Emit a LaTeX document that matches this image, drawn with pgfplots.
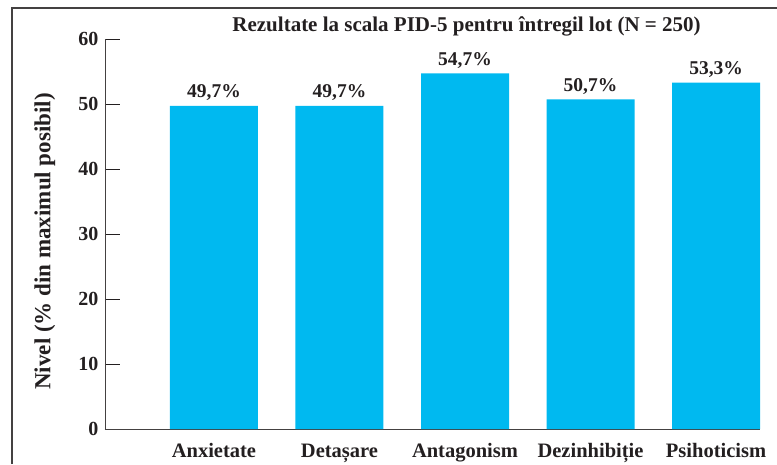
\documentclass[border=0pt]{standalone}
\usepackage{pgfplots}
\pgfplotsset{compat=1.18}
\usepackage{fontspec}
\setmainfont{Liberation Serif}
\definecolor{barc}{RGB}{0,185,240}
\definecolor{txt}{RGB}{35,31,32}
\begin{document}
\begin{tikzpicture}[x=1pt,y=1pt]
\draw[line width=1.2pt, color=txt!85] (12,0) -- (12,456) -- (777,456);
\begin{axis}[
  at={(105pt,35pt)}, anchor=south west, scale only axis,
  width=655pt, height=390pt,
  xmin=-0.868, xmax=4.35, ymin=0, ymax=60,
  axis lines*=left,
  axis line style={color=txt!85, line width=0.9pt},
  ybar, bar width=88pt,
  ytick={0,10,...,60},
  xtick={0,1,2,3,4},
  xticklabels={Anxietate,Detașare,Antagonism,Dezinhibiție,Psihoticism},
  tick align=inside,
  major tick length=15pt,
  ytick style={color=txt, line width=0.9pt},
  xtick style={draw=none},
  /pgf/number format/assume math mode=true,
  every tick label/.append style={text=txt},
  yticklabel style={anchor=east, inner sep=0pt, xshift=-6.5pt, font=\fontsize{20}{22}\selectfont\bfseries},
  xticklabel style={anchor=base, inner sep=0pt, yshift=-28pt, font=\fontsize{20.5}{22}\selectfont\bfseries},
  ylabel={Nivel (\% din maximul posibil)},
  ylabel style={at={(axis description cs:-0.092,0.481)}, anchor=center, font=\fontsize{23}{25}\selectfont\bfseries, text=txt},
  title={Rezultate la scala PID-5 pentru întregil lot (N = 250)},
  title style={at={(axis description cs:0.552,1.004)}, anchor=base, inner sep=0pt, font=\fontsize{21}{23}\selectfont\bfseries, text=txt},
  nodes near coords={\pgfmathprintnumber[fixed,fixed zerofill,precision=1,use comma]{\pgfplotspointmeta}\%},
  nodes near coords style={anchor=base, inner sep=0pt, yshift=8pt, font=\fontsize{19.5}{21}\selectfont\bfseries, text=txt},
  clip=false,
]
\addplot[fill=barc, draw=none] coordinates {(0,49.7) (1,49.7) (2,54.7) (3,50.7) (4,53.3)};
\end{axis}
\pgfresetboundingbox
\path[use as bounding box] (0,0) rectangle (777,464);
\end{tikzpicture}
\end{document}
